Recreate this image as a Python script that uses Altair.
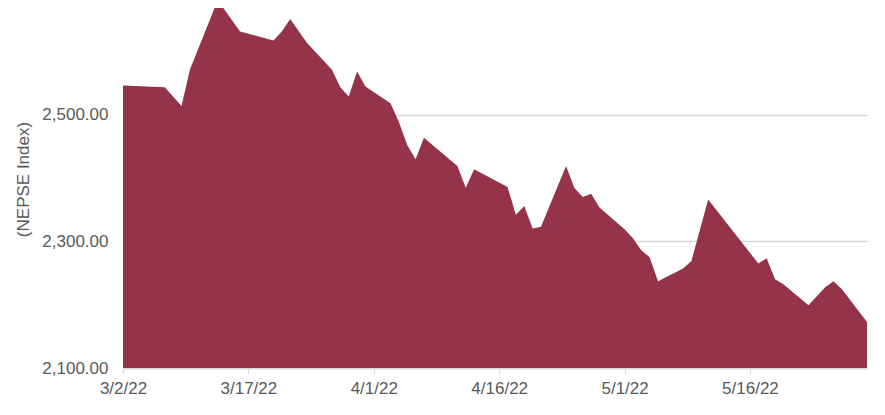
import altair as alt
import pandas as pd

dates = [
    "2022-03-02", "2022-03-07", "2022-03-09", "2022-03-10", "2022-03-13", "2022-03-14",
    "2022-03-16", "2022-03-20", "2022-03-21", "2022-03-22", "2022-03-24", "2022-03-27",
    "2022-03-28", "2022-03-29", "2022-03-30", "2022-03-31", "2022-04-03", "2022-04-04",
    "2022-04-05", "2022-04-06", "2022-04-07", "2022-04-11", "2022-04-12", "2022-04-13",
    "2022-04-17", "2022-04-18", "2022-04-19", "2022-04-20", "2022-04-21", "2022-04-24",
    "2022-04-25", "2022-04-26", "2022-04-27", "2022-04-28", "2022-05-01", "2022-05-02",
    "2022-05-03", "2022-05-04", "2022-05-05", "2022-05-08", "2022-05-09", "2022-05-11",
    "2022-05-17", "2022-05-18", "2022-05-19", "2022-05-20", "2022-05-23", "2022-05-25",
    "2022-05-26", "2022-05-27", "2022-05-30",
]
nepse = [
    2546.4, 2543.9, 2514.3, 2571.3, 2670.5, 2669.0,
    2631.9, 2617.7, 2632.0, 2651.5, 2614.0, 2571.3,
    2543.9, 2529.0, 2568.6, 2544.8, 2518.5, 2488.9,
    2452.5, 2429.9, 2464.1, 2419.2, 2384.9, 2414.0,
    2386.0, 2342.4, 2355.9, 2320.3, 2323.4, 2419.2,
    2384.4, 2370.2, 2375.4, 2353.5, 2319.5, 2305.2,
    2286.2, 2275.1, 2237.1, 2257.3, 2269.3, 2366.5,
    2265.2, 2273.6, 2240.3, 2232.4, 2199.1, 2227.6,
    2237.1, 2224.5, 2172.7,
]
x_ticks = [(3, 2), (3, 17), (4, 1), (4, 16), (5, 1), (5, 16)]
y_ticks = [2100, 2300, 2500]

df = pd.DataFrame({"date": dates, "value": nepse})

FONT = "Liberation Sans"
TXT = "#595959"
GRID = "#d9d9d9"

chart = (
    alt.Chart(df)
    .mark_area(color="#953448", clip=True)
    .encode(
        x=alt.X(
            "date:T",
            scale=alt.Scale(
                type="utc",
                nice=False,
                domain=[
                    alt.DateTime(year=2022, month=3, date=2, utc=True),
                    alt.DateTime(year=2022, month=5, date=30, utc=True),
                ],
            ),
            axis=alt.Axis(
                title=None,
                format="%-m/%-d/%y",
                values=[alt.DateTime(year=2022, month=m, date=d, utc=True) for m, d in x_ticks],
                grid=False,
                domainColor=GRID,
                domainWidth=1.5,
                tickColor=GRID,
                tickWidth=1.2,
                tickSize=5,
                labelPadding=7,
                labelFlush=False,
                labelOverlap=False,
                labelFont=FONT,
                labelFontSize=17,
                labelColor=TXT,
            ),
        ),
        y=alt.Y(
            "value:Q",
            scale=alt.Scale(domain=[2100, 2669], nice=False, zero=False),
            axis=alt.Axis(
                title="(NEPSE Index)",
                values=y_ticks,
                format=",.2f",
                domain=False,
                ticks=False,
                grid=True,
                gridColor=GRID,
                gridWidth=1.4,
                labelPadding=15,
                labelFont=FONT,
                labelFontSize=17,
                labelColor=TXT,
                titleFont=FONT,
                titleFontSize=17,
                titleFontWeight="normal",
                titleColor=TXT,
                titleX=-100,
                titleY=171,
                titleAlign="center",
                titleBaseline="middle",
            ),
        ),
    )
    .properties(
        width=744,
        height=360,
        background="white",
        autosize=alt.AutoSizeParams(type="none"),
        padding={"left": 115, "top": 0, "right": 10, "bottom": 40},
    )
    .configure_view(strokeWidth=0, stroke=None)
)

chart.save("out.html", embed_options={"renderer": "svg", "actions": False})
